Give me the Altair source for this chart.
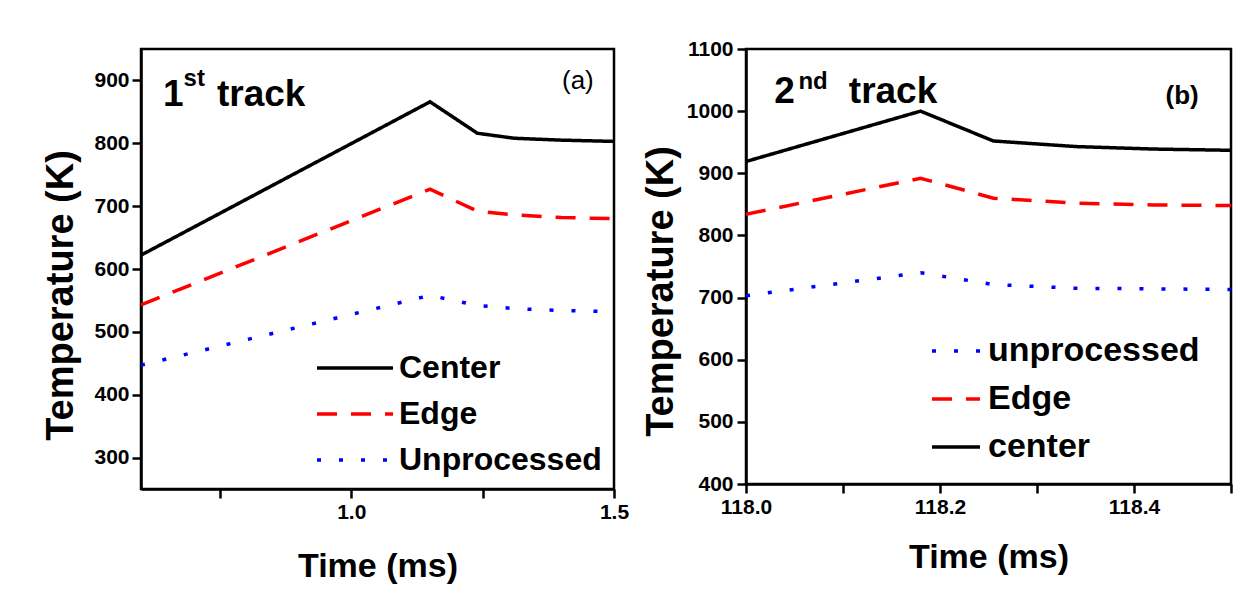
import altair as alt
import pandas as pd

# ---------------- data ----------------
# Panel (a): 1st track
t1 = [0.60, 1.15, 1.24, 1.31, 1.40, 1.50]
center1 = [622, 866, 816, 808, 805, 803]
edge1 = [543, 727, 692, 686, 682, 680]
unproc1 = [447, 558, 542, 537, 534, 532]
names1 = ["Center", "Edge", "Unprocessed"]

# Panel (b): 2nd track
t2 = [118.0, 118.18, 118.255, 118.34, 118.42, 118.5]
center2 = [919, 1000, 952, 943, 939, 937]
edge2 = [834, 892, 860, 852, 849, 848]
unproc2 = [703, 740, 721, 715, 714, 713]
names2 = ["unprocessed", "Edge", "center"]

FONT = "Liberation Sans"

def long_df(t, series):
    rows = []
    for name, vals in series:
        for i, (x, y) in enumerate(zip(t, vals)):
            rows.append({"t": x, "T": y, "series": name, "order": i})
    return pd.DataFrame(rows)

df1 = long_df(t1, [("Center", center1), ("Edge", edge1), ("Unprocessed", unproc1)])
df2 = long_df(t2, [("center", center2), ("Edge", edge2), ("unprocessed", unproc2)])

SOLID = [1, 0]
DASH = [20, 14]
DOT = [4, 18]

y_tick_size = {"condition": {"test": "datum.value % 100 === 0", "value": 9}, "value": 5}


def panel(df, xdom, xvals, xlabel_expr, ydom, yvals, names, colors, dashes,
          leg_x, leg_y, leg_len, leg_font, leg_row, leg_off, ytitle_pad, ytitle_y,
          ytick_pad, xtitle_pad):
    legend = alt.Legend(
        title=None, orient="none", legendX=leg_x, legendY=leg_y,
        symbolType="stroke", symbolSize=leg_len * leg_len, symbolStrokeWidth=3.5,
        labelFont=FONT, labelFontSize=leg_font, labelFontWeight="bold",
        labelColor="black", labelLimit=500, labelOffset=leg_off, rowPadding=0,
        clipHeight=leg_row, padding=0,
    )
    x = alt.X("t:Q", scale=alt.Scale(domain=xdom, nice=False, zero=False),
              axis=alt.Axis(values=xvals, labelExpr=xlabel_expr, title="Time (ms)",
                            titleFont=FONT, titleFontSize=34, titleFontWeight="bold",
                            titlePadding=xtitle_pad, titleColor="black",
                            labelFont=FONT, labelFontSize=21, labelFontWeight="bold",
                            labelColor="black", labelPadding=3, tickSize=9,
                            labelFlush=False, grid=False))
    y = alt.Y("T:Q", scale=alt.Scale(domain=ydom, nice=False, zero=False),
              axis=alt.Axis(values=yvals,
                            labelExpr="datum.value % 100 === 0 ? datum.value : ''",
                            title="Temperature (K)", titleFont=FONT, titleFontSize=38,
                            titleFontWeight="bold", titlePadding=ytitle_pad,
                            titleY=ytitle_y, titleColor="black",
                            labelFont=FONT, labelFontSize=21, labelFontWeight="bold",
                            labelColor="black", labelPadding=ytick_pad,
                            tickSize=y_tick_size, labelFlush=False, grid=False))
    lines = alt.Chart(df).mark_line(strokeWidth=3.5, clip=True).encode(
        x=x, y=y,
        color=alt.Color("series:N", scale=alt.Scale(domain=names, range=colors), legend=legend),
        strokeDash=alt.StrokeDash("series:N", scale=alt.Scale(domain=names, range=dashes), legend=legend),
        order="order:Q",
    )
    return lines


left_lines = panel(df1, [0.6, 1.5], [0.75, 1.0, 1.25, 1.5],
                   "datum.value == 1 || datum.value == 1.5 ? format(datum.value, '.1f') : ''",
                   [250, 950], list(range(300, 951, 50)), names1,
                   ["#000000", "#ff0000", "#0000ff"], [SOLID, DASH, DOT],
                   174, 296, 76, 32, 46, 4, 13, 246, 3, 27)

right_lines = panel(df2, [118.0, 118.5], [118.0, 118.1, 118.2, 118.3, 118.4, 118.5],
                    "(round(datum.value * 10) % 2 === 0) ? format(datum.value, '.1f') : ''",
                    [400, 1100], list(range(400, 1101, 50)), names2,
                    ["#0000ff", "#ff0000", "#000000"], [DOT, DASH, SOLID],
                    184, 278, 48, 34, 48, 6, 6, 242, 4, 23)

# ---------------- annotations ----------------
ann1_big = pd.DataFrame({"t": [0.642, 0.7446], "T": [859, 859], "txt": ["1", "track"]})
ann1_sup = pd.DataFrame({"t": [0.681], "T": [891], "txt": ["st"]})
ann1_lab = pd.DataFrame({"t": [1.401], "T": [886], "txt": ["(a)"]})

ann2_big = pd.DataFrame({"t": [118.029, 118.106], "T": [1013.6, 1013.6], "txt": ["2", "track"]})
ann2_sup = pd.DataFrame({"t": [118.054], "T": [1035.6], "txt": ["nd"]})
ann2_lab = pd.DataFrame({"t": [118.4325], "T": [1011.5], "txt": ["(b)"]})


def text_layer(df, size, weight):
    return alt.Chart(df).mark_text(font=FONT, fontSize=size, fontWeight=weight,
                                   align="left", baseline="alphabetic", color="black").encode(
        x="t:Q", y="T:Q", text="txt:N")


left = alt.layer(left_lines,
                 text_layer(ann1_big, 37, "bold"),
                 text_layer(ann1_sup, 24, "bold"),
                 text_layer(ann1_lab, 26, "normal")).properties(width=473, height=440)
right = alt.layer(right_lines,
                  text_layer(ann2_big, 37, "bold"),
                  text_layer(ann2_sup, 24, "bold"),
                  text_layer(ann2_lab, 26, "bold")).properties(width=485, height=435)

chart = alt.hconcat(left, right, spacing=132, bounds="flush").resolve_scale(
    color="independent", strokeDash="independent", x="independent", y="independent"
).resolve_legend(color="independent", strokeDash="independent").properties(
    padding={"left": 41, "top": 36, "right": 5, "bottom": 5}
).configure(background="white").configure_view(
    stroke="black", strokeWidth=2.5
).configure_axis(
    domainColor="black", domainWidth=2.5, tickColor="black", tickWidth=2.5
)

chart.save("out.html", embed_options={"renderer": "svg", "actions": False})
